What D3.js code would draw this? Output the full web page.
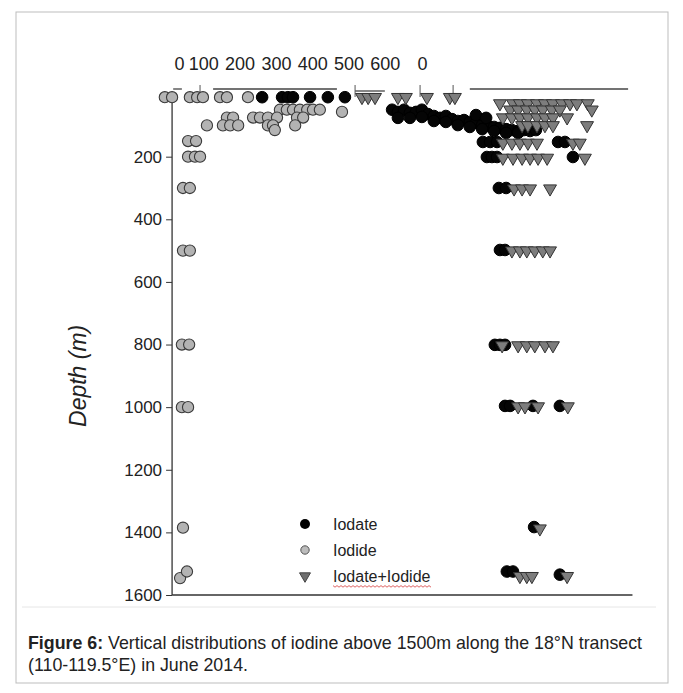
<!DOCTYPE html>
<html><head><meta charset="utf-8">
<script src="https://cdn.jsdelivr.net/npm/d3@7/dist/d3.min.js"></script>
<style>
body{margin:0;background:#fff;}
svg text{font-family:"Liberation Sans",Arial,sans-serif;}
</style></head>
<body><svg id="c" width="683" height="693"></svg>
<script>
// ---- data ----
const depthTicks = [200,400,600,800,1000,1200,1400,1600];
const topTickValues = [0,100,200,300,400,500,600,702];
const topTickLabels = ["0","100","200","300","400","500","600","0"];
const seriesNames = ["Iodate","Iodide","Iodate+Iodide"];

// [concentration, depth]
const iodide = [
 [-6,10],[14,10],[63,10],[83,10],[99,10],[146,10],[165,10],[223,10],
 [311,50],[330,50],[347,50],[366,50],[386,50],[402,50],[421,50],[482,57],
 [165,75],[182,75],[237,75],[256,75],[278,75],[303,75],[358,75],[375,75],
 [110,100],[154,100],[174,100],[196,100],[278,100],[292,100],[353,100],[297,115],
 [58,150],[80,150],[58,200],[77,200],[91,200],
 [44,300],[63,300],[44,500],[63,500],[41,800],[61,800],[41,1000],[58,1000],
 [44,1385],[36,1546],[55,1525]
];
const iodate = [
 [262,10],[317,10],[333,10],[347,10],[394,10],[443,10],[490,10],
 [620,50],[636,57],[653,50],[669,60],[686,57],[702,50],[719,64],[735,70],[752,76],[768,70],
 [785,80],[801,86],[818,83],[834,89],[851,92],[868,99],[884,102],[901,105],[917,108],
 [934,112],[950,115],[967,118],[983,115],[1000,118],[1016,115],
 [636,76],[669,76],[702,73],[735,86],[768,89],[801,99],[834,105],[868,112],[901,118],
 [934,124],[967,124],[851,67],[879,76],
 [870,153],[890,153],[909,153],[1077,153],[1096,153],
 [881,201],[895,201],[909,201],[1118,201],
 [914,300],[934,300],[917,498],[931,498],[903,801],[917,801],[931,801],
 [931,996],[945,996],[1008,996],[1082,996],[1011,1383],
 [936,1525],[953,1525],[1082,1535]
];
const total = [
 [537,10],[554,10],[573,10],[636,10],[658,10],[716,10],[779,10],[793,10],
 [917,30],[953,30],[972,30],[994,30],[1019,30],[1041,30],[1063,30],[1088,30],[1110,30],[1129,30],[1159,30],
 [945,50],[967,50],[991,50],[1013,50],[1035,50],[1060,50],[1082,50],[1170,50],
 [925,75],[950,75],[972,75],[994,75],[1019,75],[1041,75],[1063,75],[1102,75],
 [978,100],[994,100],[1019,100],[1041,100],[1063,100],[1157,100],
 [925,156],[950,156],[972,156],[994,156],[1019,156],[1118,156],[1137,156],
 [925,204],[953,204],[978,204],[1000,204],[1022,204],[1047,204],[1151,204],
 [956,302],[978,302],[1000,302],[1055,302],
 [950,500],[972,500],[991,500],[1013,500],[1035,500],[1055,500],
 [923,803],[967,803],[991,803],[1013,803],[1041,803],[1063,803],
 [967,998],[986,998],[1022,998],[1104,998],
 [1027,1388],[972,1540],[991,1540],[1005,1540],[1102,1540]
];
// remnants of the top axis lines (in concentration units)
const topSegments = [[17,41],[127,468],[518,600],[834,1270]];

// ---- layout ----
const svg = d3.select("#c");
const x = d3.scaleLinear().domain([0,1300]).range([167,639]);
const y = d3.scaleLinear().domain([-13,1600]).range([90,595]);

// frame
svg.append("rect").attr("x",16).attr("y",12).attr("width",652).attr("height",671)
  .attr("fill","none").attr("stroke","#bdbdbd").attr("stroke-width",1);
svg.append("line").attr("x1",22).attr("x2",656).attr("y1",607).attr("y2",607)
  .attr("stroke","#e6e6e6");

// top axis labels
const gTop = svg.append("g").attr("transform","translate(0,74)")
  .call(d3.axisTop(x).tickValues(topTickValues).tickSize(0).tickPadding(4)
    .tickFormat((d,i)=>topTickLabels[i]));
gTop.select(".domain").remove();
gTop.selectAll("text").attr("font-size",18).attr("fill","#222")
  .attr("font-family","'Liberation Sans',Arial,sans-serif")
  .attr("dx",(d,i)=> i===0 ? 12 : 0);

// top axis remnants
svg.append("g").selectAll("line").data(topSegments).join("line")
  .attr("x1",d=>x(d[0])).attr("x2",d=>x(d[1]))
  .attr("y1",(d,i)=> i===2?91:89).attr("y2",(d,i)=> i===2?91:89)
  .attr("stroke","#444").attr("stroke-width",1.3);
svg.append("g").selectAll("line").data([91,518,697,788]).join("line")
  .attr("x1",d=>x(d)).attr("x2",d=>x(d)).attr("y1",85).attr("y2",97)
  .attr("stroke","#555").attr("stroke-width",1);

// y axis
const gY = svg.append("g").attr("transform",`translate(${x(14)},0)`)
  .call(d3.axisLeft(y).tickValues(depthTicks).tickSize(6).tickPadding(4).tickFormat(d3.format("d")));
gY.select(".domain").remove();
gY.selectAll("line").attr("stroke","#333");
gY.selectAll("text").attr("font-size",17).attr("fill","#222")
  .attr("font-family","'Liberation Sans',Arial,sans-serif");
svg.append("line").attr("x1",x(14)).attr("x2",x(14)).attr("y1",y(20)).attr("y2",y(1600))
  .attr("stroke","#333").attr("stroke-width",1.3);
svg.append("line").attr("x1",x(14)).attr("x2",x(1282)).attr("y1",y(1600)).attr("y2",y(1600))
  .attr("stroke","#333").attr("stroke-width",1.3);

svg.append("text").attr("transform",`translate(86,${y(900)}) rotate(-90)`)
  .attr("text-anchor","middle").attr("font-size",23).attr("font-style","italic")
  .attr("fill","#222").text("Depth (m)");

// data marks
const tri = d3.symbol().type(d3.symbolTriangle).size(72);
svg.append("g").selectAll("circle").data(iodide).join("circle")
  .attr("cx",d=>x(d[0])).attr("cy",d=>y(d[1])).attr("r",5.6)
  .attr("fill","#b3b3b3").attr("stroke","#3a3a3a").attr("stroke-width",1.1);
svg.append("g").selectAll("circle").data(iodate).join("circle")
  .attr("cx",d=>x(d[0])).attr("cy",d=>y(d[1])).attr("r",5.8)
  .attr("fill","#050505").attr("stroke","#000");
svg.append("g").selectAll("path").data(total).join("path")
  .attr("d",tri).attr("transform",d=>`translate(${x(d[0])},${y(d[1])}) rotate(180)`)
  .attr("fill","#7d7d7d").attr("stroke","#333").attr("stroke-width",1);

// legend
const leg = svg.append("g");
const legY = d3.scalePoint().domain(seriesNames).range([524,576]);
leg.append("circle").attr("cx",305).attr("cy",legY("Iodate")).attr("r",5).attr("fill","#000");
leg.append("circle").attr("cx",305).attr("cy",legY("Iodide")).attr("r",4.2)
  .attr("fill","#bcbcbc").attr("stroke","#555");
leg.append("path").attr("d",d3.symbol().type(d3.symbolTriangle).size(52))
  .attr("transform",`translate(305,${legY("Iodate+Iodide")}) rotate(180)`)
  .attr("fill","#6f6f6f").attr("stroke","#444");
leg.selectAll("text").data(seriesNames).join("text")
  .attr("x",333).attr("y",d=>legY(d)).attr("dy","0.35em")
  .attr("font-size",16).attr("fill","#222").text(d=>d);
// spell-check squiggle under the third legend label
const lt = leg.selectAll("text").nodes()[2].getBBox();
let zz = `M${lt.x},${lt.y+lt.height+1}`;
for(let px=lt.x, k=0; px<lt.x+lt.width; px+=2, k++) zz += `L${px+2},${lt.y+lt.height+1+(k%2?0:1.6)}`;
leg.append("path").attr("d",zz).attr("fill","none").attr("stroke","#d43b3b").attr("stroke-width",0.8);

// caption
const cap = svg.append("text").attr("x",28).attr("y",649).attr("font-size",17.8).attr("fill","#222");
cap.append("tspan").attr("font-weight","bold").text("Figure 6:");
cap.append("tspan").text(" Vertical distributions of iodine above 1500m along the 18°N transect");
svg.append("text").attr("x",28).attr("y",671).attr("font-size",17.8).attr("fill","#222")
  .text("(110-119.5°E) in June 2014.");
</script></body></html>
